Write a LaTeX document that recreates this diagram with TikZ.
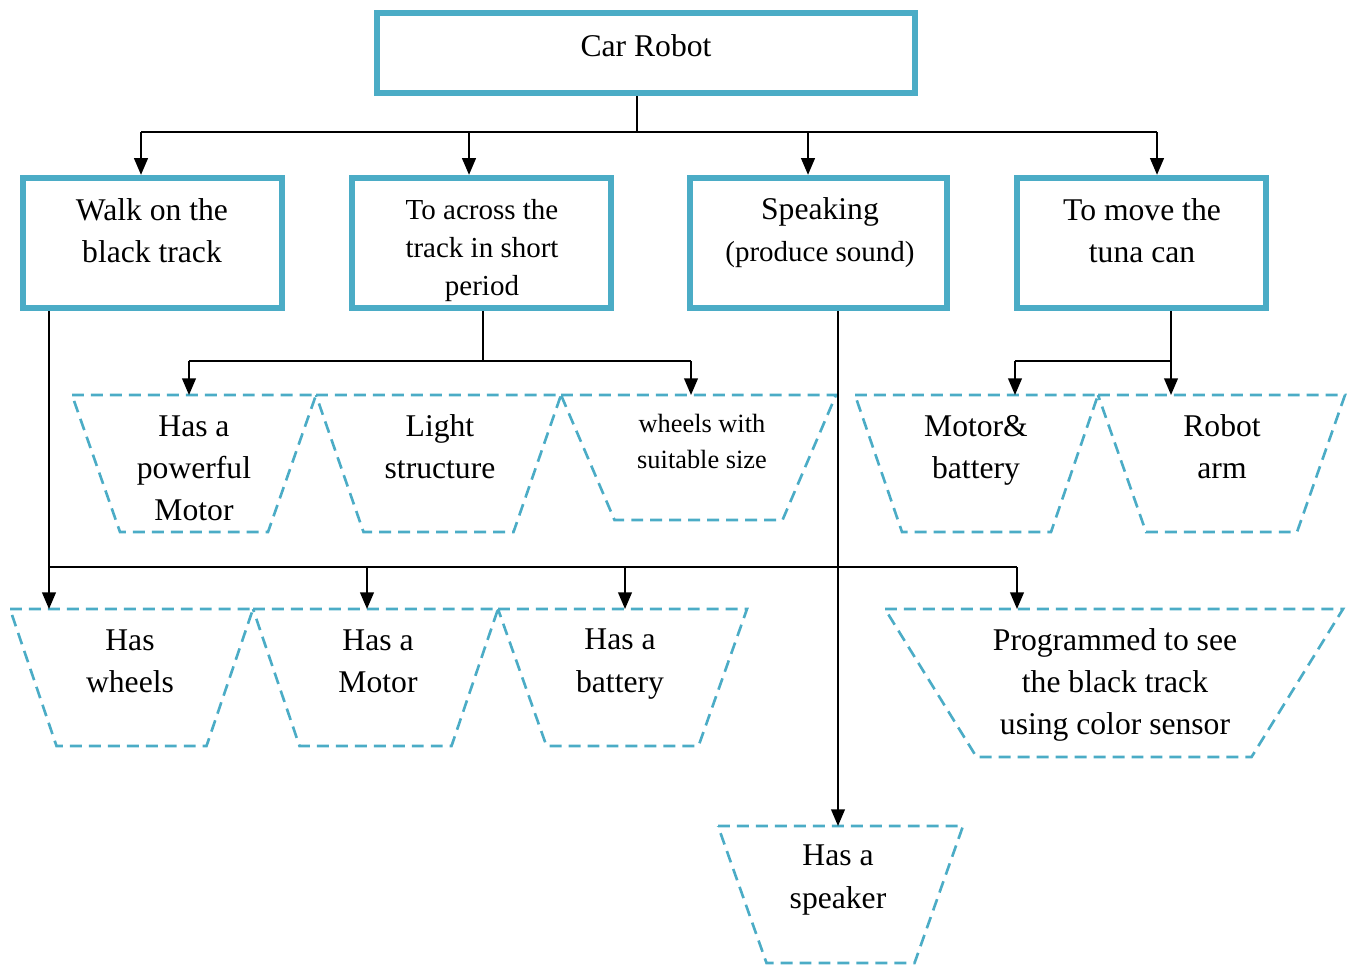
\documentclass[tikz,border=0pt]{standalone}
\usepackage{fontspec}
\setmainfont{Liberation Serif}
\newfontfamily\tnr{Liberation Serif}
\usetikzlibrary{arrows.meta}
\definecolor{boxblue}{HTML}{4BACC6}

% dashed inverted trapezoid drawn on the frame of a named node
\newcommand\trapedge[2]{%
  \draw[dashline] (#1.north west) -- (#1.north east)
    -- ([xshift=-#2*0.02cm]#1.south east)
    -- ([xshift=#2*0.02cm]#1.south west) -- cycle;}

\begin{document}
\begin{tikzpicture}[x=0.02cm,y=-0.02cm,
  mainbox/.style={draw=boxblue, line width=3.6pt, minimum width=#1*0.02cm,
    minimum height=130*0.02cm, inner sep=0pt},
  trapframe/.style n args={2}{minimum width=#1*0.02cm, minimum height=#2*0.02cm,
    inner sep=0pt, outer sep=0pt},
  dashline/.style={draw=boxblue, line width=1.5pt, dash pattern=on 6.8pt off 4pt},
  lbl/.style={align=center, font=\tnr\fontsize{18}{24}\selectfont, inner sep=0pt},
  wire/.style={line width=1.1pt, black},
  arr/.style={wire, -{Triangle[length=9.5pt,width=7.8pt]}}]

\useasboundingbox (0,0) rectangle (1354,965);

% top level
\node[mainbox=538, minimum height=80*0.02cm] (car) at (646,53) {};
\node[lbl] (carT) at (646,46) {Car Robot};

% goals
\node[mainbox=259] (walk) at (152.5,243) {};
\node[lbl] (walkT) at (152,231) {Walk on the\\black track};
\node[mainbox=259] (across) at (481.5,243) {};
\node[lbl, font=\tnr\fontsize{16.5}{21.6}\selectfont] (acrossT) at (482,250.5) {To across the\\track in short\\period};
\node[mainbox=257] (speak) at (818.5,243) {};
\node[lbl] (speakT) at (820,233) {Speaking\\\fontsize{16.5}{24}\selectfont(produce sound)};
\node[mainbox=249] (move) at (1141.5,243) {};
\node[lbl] (moveT) at (1142,231) {To move the\\tuna can};

% requirements
\node[trapframe={244}{137}] (t1) at (194,463.5) {};
\trapedge{t1}{48}
\node[lbl] (t1T) at (194,468) {Has a\\powerful\\Motor};
\node[trapframe={245}{137}] (t2) at (438.5,463.5) {};
\trapedge{t2}{47.5}
\node[lbl] (t2T) at (440,447) {Light\\structure};
\node[trapframe={275}{125}] (t3) at (698.5,457.5) {};
\trapedge{t3}{53.5}
\node[lbl, font=\tnr\fontsize{15}{20.5}\selectfont] (t3T) at (702,441) {wheels with\\suitable size};
\node[trapframe={243}{137}] (t4) at (976.5,463.5) {};
\trapedge{t4}{47}
\node[lbl] (t4T) at (976,450) {Motor\&\\battery};
\node[trapframe={247}{137}] (t5) at (1221.5,463.5) {};
\trapedge{t5}{48}
\node[lbl] (t5T) at (1222,447) {Robot\\arm};
\node[trapframe={243}{137}] (t6) at (131.5,677.5) {};
\trapedge{t6}{46.5}
\node[lbl] (t6T) at (130,661) {Has\\wheels};
\node[trapframe={245}{137}] (t7) at (375.5,677.5) {};
\trapedge{t7}{46.5}
\node[lbl] (t7T) at (378,661) {Has a\\Motor};
\node[trapframe={249}{137}] (t8) at (622.5,677.5) {};
\trapedge{t8}{48.5}
\node[lbl] (t8T) at (620,664) {Has a\\battery};
\node[trapframe={458}{148}] (t9) at (1114,683) {};
\trapedge{t9}{91.5}
\node[lbl] (t9T) at (1115,685) {Programmed to see\\the black track\\using color sensor};
\node[trapframe={245}{137}] (t10) at (840.5,894.5) {};
\trapedge{t10}{48.5}
\node[lbl] (t10T) at (838,880) {Has a\\speaker};

% main bus
\coordinate (hub) at (637,132);
\coordinate (b1) at (141,132);
\coordinate (b2) at (469,132);
\coordinate (b3) at (808,132);
\coordinate (b4) at (1157,132);
\draw[wire] (car.south -| hub) -- (hub);
\draw[wire] (b1) -- (b4);
\draw[arr] (b1) -- (walk.north -| b1);
\draw[arr] (b2) -- (across.north -| b2);
\draw[arr] (b3) -- (speak.north -| b3);
\draw[arr] (b4) -- (move.north -| b4);

% short period branch
\coordinate (c0) at (483,361);
\coordinate (c1) at (189,361);
\coordinate (c2) at (691,361);
\draw[wire] (across.south -| c0) -- (c0);
\draw[wire] (c1) -- (c2);
\draw[arr] (c1) -- (t1.north -| c1);
\draw[arr] (c2) -- (t3.north -| c2);

% tuna can branch
\coordinate (m0) at (1171,361);
\coordinate (m1) at (1015,361);
\draw[wire] (move.south -| m0) -- (m0) -- (m1);
\draw[arr] (m1) -- (t4.north -| m1);
\draw[arr] (m0) -- (t5.north -| m0);

% speaking branch
\coordinate (sp) at (838,0);
\draw[arr] (speak.south -| sp) -- (t10.north -| sp);

% black track branch
\coordinate (w0) at (49,567);
\coordinate (w2) at (367,567);
\coordinate (w3) at (625,567);
\coordinate (w4) at (1017,567);
\draw[wire] (walk.south -| w0) -- (w0);
\draw[wire] (w0) -- (w4);
\draw[arr] (w0) -- (t6.north -| w0);
\draw[arr] (w2) -- (t7.north -| w2);
\draw[arr] (w3) -- (t8.north -| w3);
\draw[arr] (w4) -- (t9.north -| w4);
\end{tikzpicture}
\end{document}
